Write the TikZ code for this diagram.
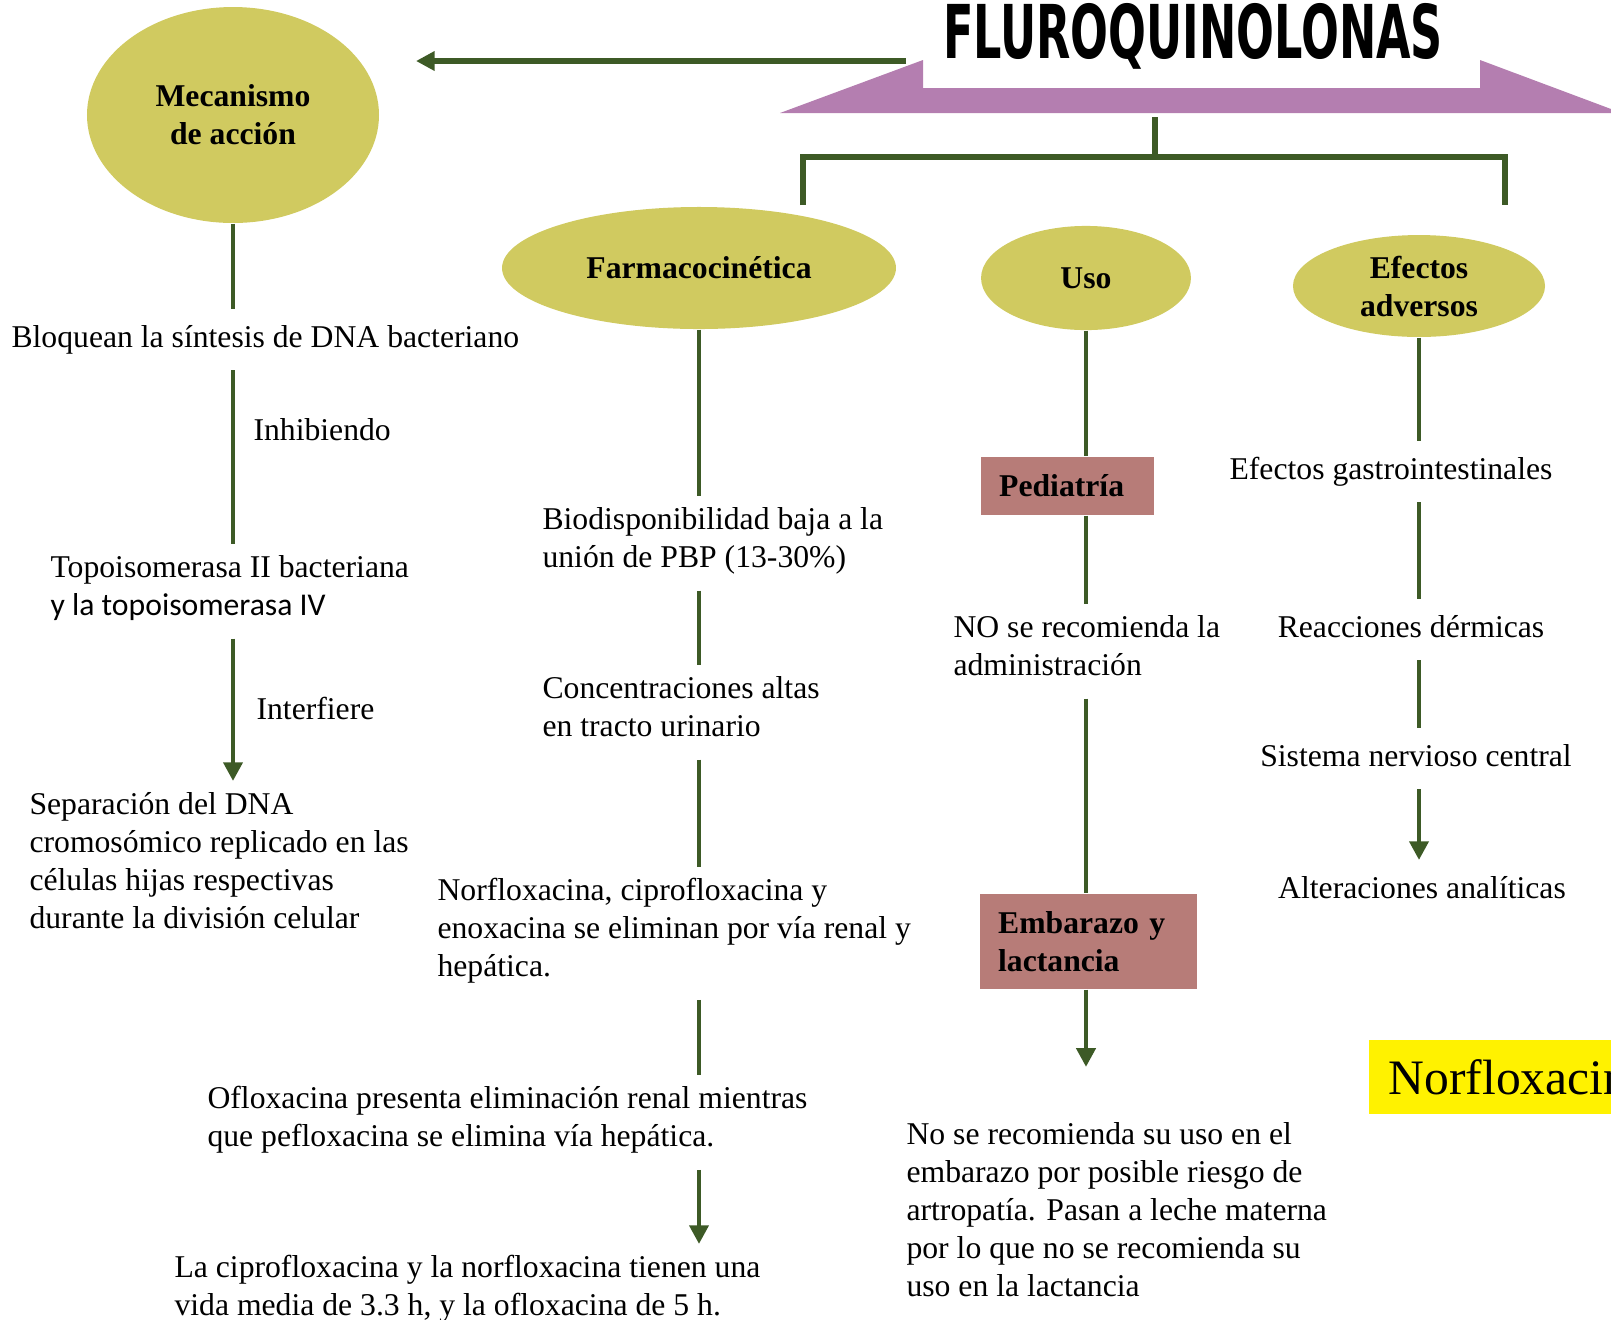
\documentclass[tikz,border=0pt]{standalone}
\usepackage{fontspec}
\setmainfont{Liberation Serif}
\newfontfamily\calibrifont{Carlito}
\newfontfamily\titlefont{DejaVu Sans}
\usetikzlibrary{arrows.meta,shapes.geometric}
\definecolor{fgreen}{HTML}{3D5A26}
\definecolor{folive}{HTML}{D0CA60}
\definecolor{frose}{HTML}{B77C78}
\definecolor{fpurple}{HTML}{B47EB0}
\newcommand\fbase{\fontsize{11.5}{13.8}\selectfont}
\tikzset{
  conn/.style={draw=fgreen, line width=1.8pt},
  arr/.style={conn, -{Triangle[length=6.8pt,width=6.8pt]}},
  head/.style={ellipse, fill=folive, inner sep=0pt, align=center, font=\fbase\bfseries},
  casebox/.style={rectangle, fill=frose, inner xsep=6.6pt, inner ysep=0pt, align=left, font=\fbase\bfseries},
  txt/.style={align=left, inner xsep=0pt, inner ysep=4pt,
    execute at begin node=\strut, execute at end node=\strut},
  lbl/.style={anchor=west, inner sep=0pt},
}

\begin{document}
\begin{tikzpicture}[x=0.363pt, y=-0.363pt, font=\fbase]
\useasboundingbox (0,0) rectangle (1611,1319);
% ---- title banner -------------------------------------------------
\fill[fpurple] (780,113) -- (923,60) -- (923,88) -- (1480,88) -- (1480,60)
               -- (1611,109) -- (1611,113) -- cycle;
\node[anchor=north, inner sep=0pt] (title) at (1193,3)
      {\resizebox{181.5pt}{20pt}{\titlefont\bfseries FLUROQUINOLONAS}};
% ---- headings -----------------------------------------------------
\node[head, minimum width=106pt, minimum height=78.4pt] (mec) at (233,115) {Mecanismo\\de acción};
\node[head, minimum width=143pt, minimum height=44.3pt] (farm) at (699,268) {Farmacocinética};
\node[head, minimum width=76.2pt, minimum height=37.8pt] (uso) at (1086,278) {Uso};
\node[head, minimum width=91.5pt, minimum height=37pt] (efec) at (1419,286) {Efectos\\adversos};
% ---- top arrow and bracket ----------------------------------------
\coordinate (arrs) at (906,61);
\coordinate (arre) at (416,61);
\draw[arr, line width=2.2pt] (arrs) -- (arre);
\coordinate (stem) at (1155,117);
\coordinate (brl) at (803,205);
\coordinate (brr) at (1505,205);
\draw[conn, line width=2pt] (stem) -- ++(0,40);
\draw[conn, line width=2pt] (brl) -- ++(0,-48) -| (brr);
% ---- mecanismo de accion ------------------------------------------
\node[txt, anchor=north west] (bloq) at (11,309) {Bloquean la síntesis de DNA bacteriano};
\node[txt, anchor=north west] (topo) at (50,544) {Topoisomerasa II bacteriana\\{\calibrifont y la topoisomerasa IV}};
\node[txt, anchor=north west] (sep) at (29,781) {Separación del DNA\\cromosómico replicado en las\\células hijas respectivas\\durante la división celular};
\node[lbl] (inhib) at (253,430) {Inhibiendo};
\node[lbl] (interf) at (256,708) {Interfiere};
\draw[conn] (mec) -- (mec |- bloq.north);
\draw[conn] (bloq.south -| mec) -- (topo.north -| mec);
\draw[arr] (topo.south -| mec) -- (sep.north -| mec);
% ---- farmacocinetica ----------------------------------------------
\node[txt, anchor=north west] (bio) at (542,496) {Biodisponibilidad baja a la\\unión de PBP (13-30\%)};
\node[txt, anchor=north west] (conc) at (542,665) {Concentraciones altas\\en tracto urinario};
\node[txt, anchor=north west] (norf) at (437,867) {Norfloxacina, ciprofloxacina y\\enoxacina se eliminan por vía renal y\\hepática.};
\node[txt, anchor=north west] (oflo) at (207,1075) {Ofloxacina presenta eliminación renal mientras\\que pefloxacina se elimina vía hepática.};
\node[txt, anchor=north west] (vida) at (174,1244) {La ciprofloxacina y la norfloxacina tienen una\\vida media de 3.3 h, y la ofloxacina de 5 h.};
\draw[conn] (farm) -- (farm |- bio.north);
\draw[conn] (bio.south -| farm) -- (conc.north -| farm);
\draw[conn] (conc.south -| farm) -- (norf.north -| farm);
\draw[conn] (norf.south -| farm) -- (oflo.north -| farm);
\draw[arr] (oflo.south -| farm) -- (vida.north -| farm);
% ---- uso ----------------------------------------------------------
\node[casebox, minimum height=21.1pt, text width=49.6pt] (ped) at (1067.5,486) {Pediatría};
\node[txt, anchor=north west] (noadm) at (953,604) {NO se recomienda la\\administración};
\node[casebox, minimum height=34.5pt, text width=65.6pt] (emb) at (1088.5,941.5) {Embarazo y\\lactancia};
\node[txt, anchor=north west] (nose) at (906,1111) {No se recomienda su uso en el\\embarazo por posible riesgo de\\artropatía. Pasan a leche materna\\por lo que no se recomienda su\\uso en la lactancia};
\draw[conn] (uso) -- (uso |- ped.north);
\draw[conn] (ped.south -| uso) -- (noadm.north -| uso);
\draw[conn] (noadm.south -| uso) -- (emb.north -| uso);
\draw[arr, shorten >=16pt] (emb.south -| uso) -- (nose.north -| uso);
% ---- efectos adversos ---------------------------------------------
\node[txt, anchor=north] (gastro) at (1391,441) {Efectos gastrointestinales};
\node[txt, anchor=north] (derm) at (1411,599) {Reacciones dérmicas};
\node[txt, anchor=north] (snc) at (1416,728) {Sistema nervioso central};
\node[txt, anchor=north] (alter) at (1422,860) {Alteraciones analíticas};
\draw[conn] (efec) -- (efec |- gastro.north);
\draw[conn] (gastro.south -| efec) -- (derm.north -| efec);
\draw[conn] (derm.south -| efec) -- (snc.north -| efec);
\draw[arr] (snc.south -| efec) -- (alter.north -| efec);
% ---- side note ----------------------------------------------------
\begin{scope}
\clip (0,0) rectangle (1611,1319);
\node[fill=yellow, anchor=west, minimum height=26.9pt, inner xsep=7.3pt,
      font=\fontsize{18}{21}\selectfont] (nbox) at (1368,1077) {Norfloxacin};
\end{scope}
\end{tikzpicture}
\end{document}
